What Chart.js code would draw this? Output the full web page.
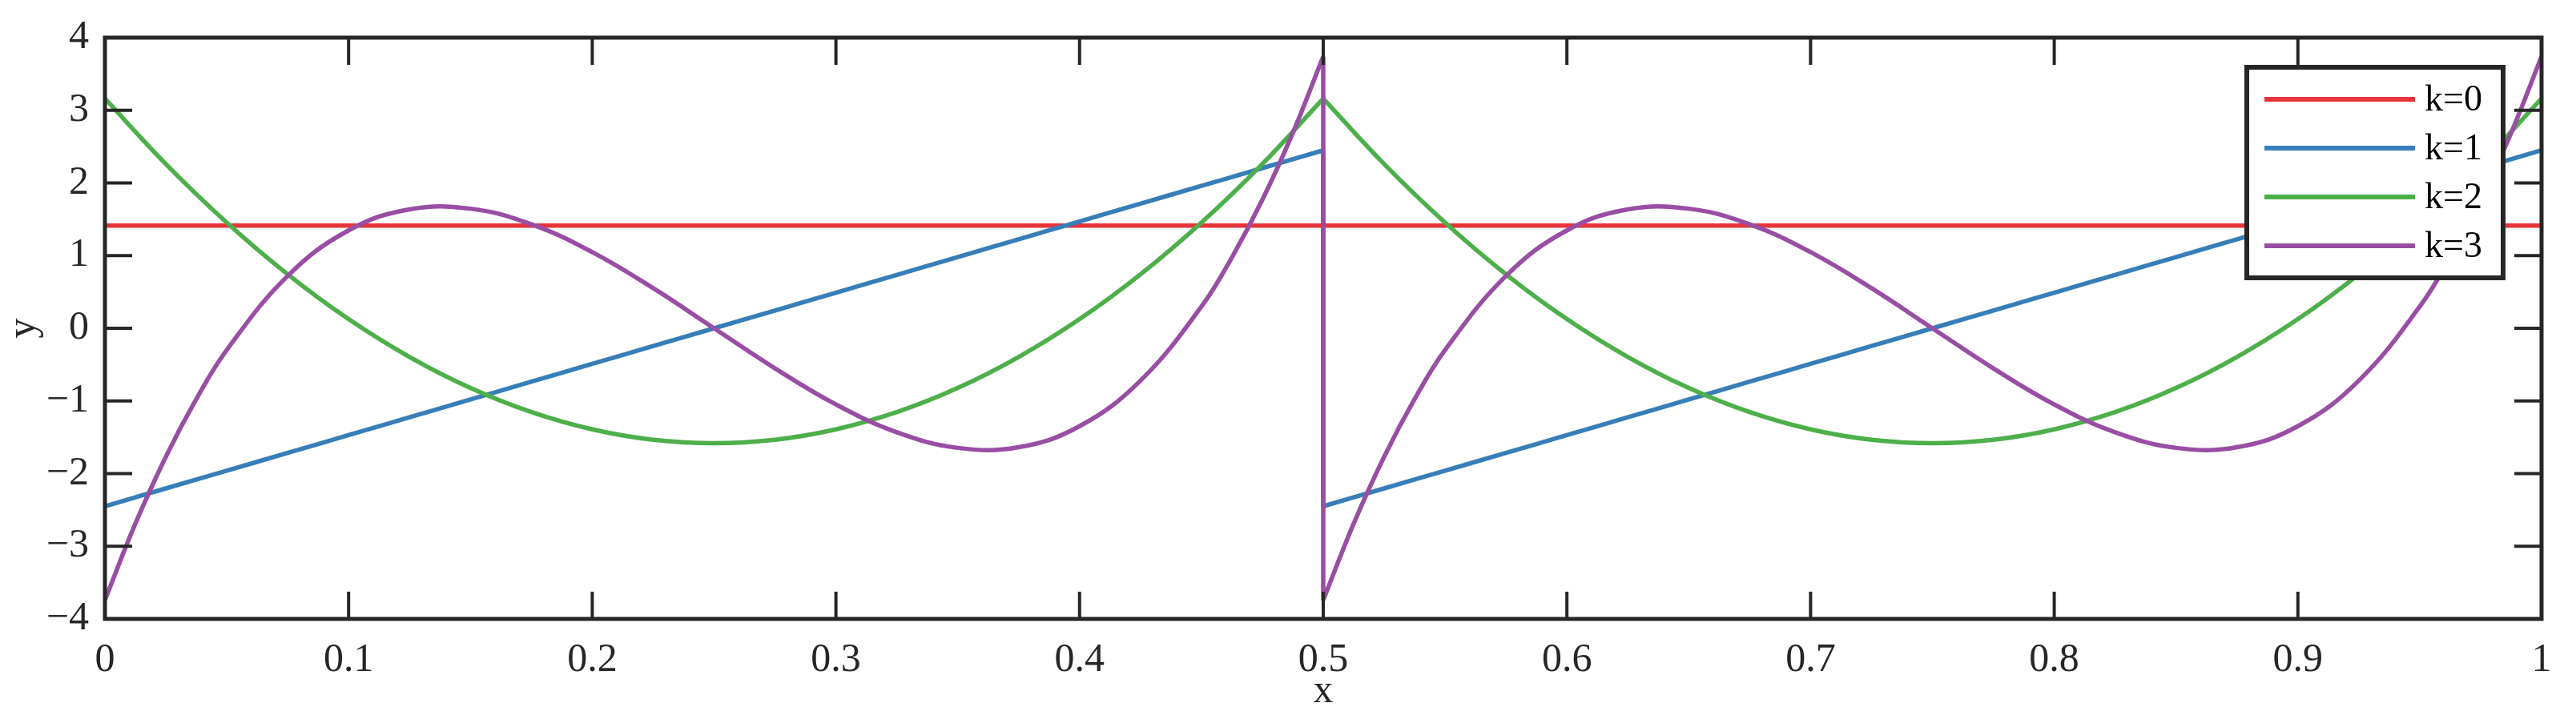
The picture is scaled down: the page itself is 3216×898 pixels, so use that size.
<!DOCTYPE html>
<html><head><meta charset="utf-8">
<script src="https://cdn.jsdelivr.net/npm/chart.js@4"></script>
<style>html,body{margin:0;padding:0;background:#fff}#w{width:3216px;height:898px}</style>
</head><body><div id="w"><canvas id="c"></canvas></div>
<script>
const xsHalf1 = [0,0.025,0.05,0.075,0.1,0.125,0.15,0.175,0.2,0.225,0.25,0.275,0.3,0.325,0.35,0.375,0.4,0.425,0.45,0.475,0.5];
const xsHalf2 = [0.5,0.525,0.55,0.575,0.6,0.625,0.65,0.675,0.7,0.725,0.75,0.775,0.8,0.825,0.85,0.875,0.9,0.925,0.95,0.975,1];
const k3XHalf1 = [0,0.0125,0.025,0.0375,0.05,0.075,0.1,0.125,0.15,0.175,0.2,0.225,0.25,0.275,0.3,0.325,0.35,0.375,0.4,0.425,0.4625,0.45,0.475,0.4875,0.5];
const k3XHalf2 = [0.5,0.5125,0.525,0.5375,0.55,0.575,0.6,0.625,0.65,0.675,0.7,0.725,0.75,0.775,0.8,0.825,0.85,0.875,0.9,0.925,0.9625,0.95,0.975,0.9875,1];
const k0X = [0, 1];
const k0Vals = [1.414, 1.414];
const k1Vals = [-2.449,-2.204,-1.960,-1.715,-1.470,-1.225,-0.980,-0.735,-0.490,-0.245,0,0.245,0.490,0.735,0.980,1.225,1.470,1.715,1.960,2.204,2.449];
const k2Vals = [3.162,2.261,1.455,0.743,0.126,-0.395,-0.822,-1.154,-1.391,-1.534,-1.581,-1.534,-1.391,-1.154,-0.822,-0.395,0.126,0.743,1.455,2.261,3.162];
const k3Vals = [-3.742,-2.688,-1.768,-0.975,-0.299,0.720,1.347,1.637,1.646,1.431,1.048,0.552,0,-0.552,-1.048,-1.431,-1.646,-1.637,-1.347,-0.720,0.299,0.299,1.768,2.688,3.742];
const labels = ['k=0','k=1','k=2','k=3'];
const colors = ['#E8333A','#377EB8','#4DAF4A','#984EA3'];
const xTicks = [0,0.1,0.2,0.3,0.4,0.5,0.6,0.7,0.8,0.9,1];
const yTicks = [-4,-3,-2,-1,0,1,2,3,4];

// fix ordering of k3 samples (the 0.4625 sample belongs between 0.45 and 0.475)
k3XHalf1.splice(20,2,0.45,0.4625); k3XHalf2.splice(20,2,0.95,0.9625);
k3Vals.splice(20,2,0.299,0.975);

const pts = (xs, ys) => xs.map((x,i)=>({x, y: ys[i]}));
function series(k, xa, xb, vals){
  const c = colors[k], o = 4-k;
  return [
    {label: labels[k], data: pts(xa, vals), borderColor: c, order:o},
    {label: labels[k], data: [{x:0.5,y:vals[vals.length-1]},{x:0.5,y:vals[0]}], borderColor: c, order:o, tension:0},
    {label: labels[k], data: pts(xb, vals), borderColor: c, order:o}
  ];
}
const datasets = [
  {label: labels[0], data: pts(k0X, k0Vals), borderColor: colors[0], order:4},
  ...series(1, xsHalf1, xsHalf2, k1Vals), ...series(2, xsHalf1, xsHalf2, k2Vals), ...series(3, k3XHalf1, k3XHalf2, k3Vals)
];
datasets.forEach(d=>{d.borderWidth=5.5; d.pointRadius=0; d.fill=false; if(d.tension===undefined) d.tension=0.4;});

const FONT = '"Liberation Serif", "DejaVu Serif", serif';
const fmt = v => (v<0 ? '\u2212'+Math.abs(v) : String(v));

const framePlugin = {
  id:'frame',
  afterDatasetsDraw(chart){
    const {ctx, chartArea:a, scales:{x,y}} = chart;
    ctx.save();
    ctx.strokeStyle='#262626';
    ctx.lineWidth=4;
    const L=34;
    ctx.beginPath();
    xTicks.forEach(v=>{const p=x.getPixelForValue(v); ctx.moveTo(p,a.bottom); ctx.lineTo(p,a.bottom-L); ctx.moveTo(p,a.top); ctx.lineTo(p,a.top+L);});
    yTicks.forEach(v=>{const p=y.getPixelForValue(v); ctx.moveTo(a.left,p); ctx.lineTo(a.left+L,p); ctx.moveTo(a.right,p); ctx.lineTo(a.right-L,p);});
    ctx.stroke();
    ctx.lineWidth=5;
    ctx.strokeRect(a.left,a.top,a.right-a.left,a.bottom-a.top);
    const bx=2805, by=84, bw=320, bh=263;
    ctx.fillStyle='#fff'; ctx.fillRect(bx,by,bw,bh);
    ctx.lineWidth=6; ctx.strokeRect(bx,by,bw,bh);
    ctx.font='46px '+FONT; ctx.textBaseline='middle'; ctx.textAlign='left';
    labels.forEach((lab,i)=>{
      const yy = by+40+i*61;
      ctx.strokeStyle=colors[i]; ctx.lineWidth=6;
      ctx.beginPath(); ctx.moveTo(bx+22,yy); ctx.lineTo(bx+210,yy); ctx.stroke();
      ctx.fillStyle='#000'; ctx.fillText(lab, bx+222, yy+2);
    });
    ctx.restore();
  }
};

new Chart(document.getElementById('c'), {
  type:'line',
  data:{datasets},
  plugins:[framePlugin],
  options:{
    responsive:true, maintainAspectRatio:false, animation:false,
    layout:{padding:{top:47,right:43,left:0,bottom:0}},
    plugins:{legend:{display:false}, tooltip:{enabled:false}},
    scales:{
      x:{type:'linear', min:0, max:1,
        afterBuildTicks(s){s.ticks=xTicks.map(v=>({value:v}));},
        afterFit(s){s.height=125;},
        grid:{display:false}, border:{display:false},
        ticks:{font:{family:FONT,size:50}, color:'#262626', padding:14, maxRotation:0, callback:v=>fmt(v)},
        title:{display:true, text:'x', font:{family:FONT,size:50}, color:'#262626', padding:{top:0,bottom:4}}
      },
      y:{type:'linear', min:-4, max:4,
        afterBuildTicks(s){s.ticks=yTicks.map(v=>({value:v}));},
        afterFit(s){s.width=131;},
        grid:{display:false}, border:{display:false},
        ticks:{font:{family:FONT,size:50}, color:'#262626', padding:12, callback:v=>fmt(v)},
        title:{display:true, text:'y', font:{family:FONT,size:50}, color:'#262626', padding:{top:0,bottom:0}}
      }
    }
  }
});
</script></body></html>
